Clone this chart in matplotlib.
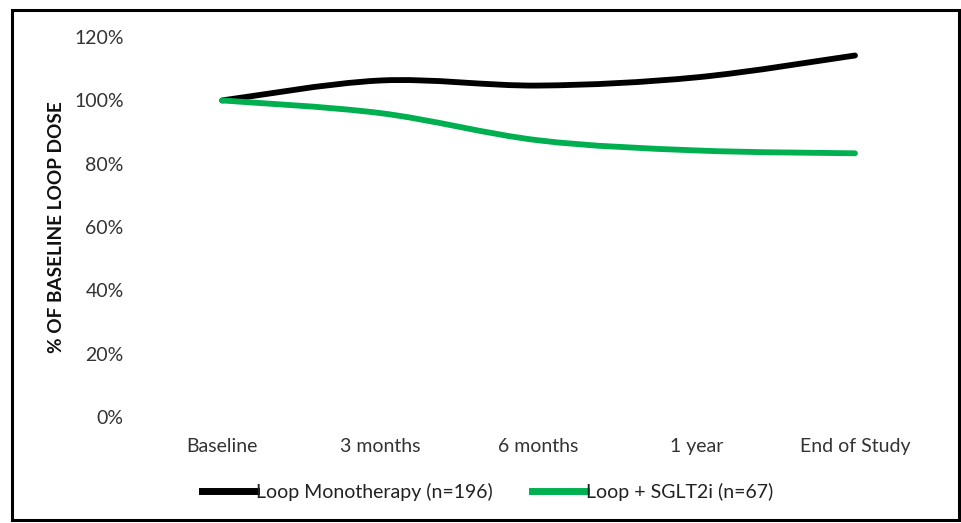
import numpy as np
import matplotlib.pyplot as plt
from matplotlib.path import Path
from matplotlib.patches import PathPatch, Rectangle
from matplotlib.lines import Line2D

plt.rcParams["font.family"] = ["Lato", "DejaVu Sans"]

categories = ["Baseline", "3 months", "6 months", "1 year", "End of Study"]
mono = [100.0, 106.3, 104.7, 107.3, 114.2]
sglt2 = [100.0, 96.0, 87.4, 84.2, 83.3]
series_names = ["Loop Monotherapy (n=196)", "Loop + SGLT2i (n=67)"]
series_colors = ["#000000", "#00b050"]
y_ticks = [0, 20, 40, 60, 80, 100, 120]


def smooth_path(xs, ys, t=1 / 6):
    # cardinal spline through the points, as cubic bezier segments
    xs = np.asarray(xs, float)
    ys = np.asarray(ys, float)
    n = len(xs)
    verts = [(xs[0], ys[0])]
    codes = [Path.MOVETO]
    for i in range(n - 1):
        p0 = i - 1 if i > 0 else i
        p3 = i + 2 if i + 2 < n else i + 1
        c1 = (xs[i] + (xs[i + 1] - xs[p0]) * t, ys[i] + (ys[i + 1] - ys[p0]) * t)
        c2 = (xs[i + 1] - (xs[p3] - xs[i]) * t, ys[i + 1] - (ys[p3] - ys[i]) * t)
        verts += [c1, c2, (xs[i + 1], ys[i + 1])]
        codes += [Path.CURVE4] * 3
    return Path(verts, codes)


fig = plt.figure(figsize=(9.62, 5.23), dpi=100)
ax = fig.add_axes([0.1487, 0.2027, 0.8223, 0.7263])

x = np.arange(len(categories))
for vals, color in zip([mono, sglt2], series_colors):
    ax.add_patch(PathPatch(smooth_path(x, vals), facecolor="none",
                           edgecolor=color, lw=4.2, capstyle="round",
                           joinstyle="round"))

ax.set_xlim(-0.5, len(categories) - 0.5)
ax.set_ylim(0, 120)
ax.set_xticks(x)
ax.set_xticklabels(categories)
ax.set_yticks(y_ticks)
ax.set_yticklabels([f"{v}%" for v in y_ticks])
ax.tick_params(length=0, labelsize=14, colors="#333333")
ax.tick_params(axis="x", pad=15)
ax.tick_params(axis="y", pad=14)
for s in ax.spines.values():
    s.set_visible(False)

ax.set_ylabel("% OF BASELINE LOOP DOSE", fontsize=13.7, fontweight="bold",
              color="#111111")
ax.yaxis.set_label_coords(-0.099, 0.5)

handles = [Line2D([], [], color=c, lw=5) for c in series_colors]
fig.legend(handles, series_names, loc="center", bbox_to_anchor=(0.507, 0.059),
           ncol=2, frameon=False, fontsize=14, handlelength=2.8,
           handletextpad=0.0, columnspacing=2.0, labelcolor="#222222")

# outer frame
fig.patches.append(Rectangle((0.0125, 0.005), 0.984, 0.975,
                             transform=fig.transFigure, fill=False,
                             edgecolor="black", lw=2.2))

fig.savefig("out.png", dpi=100)
